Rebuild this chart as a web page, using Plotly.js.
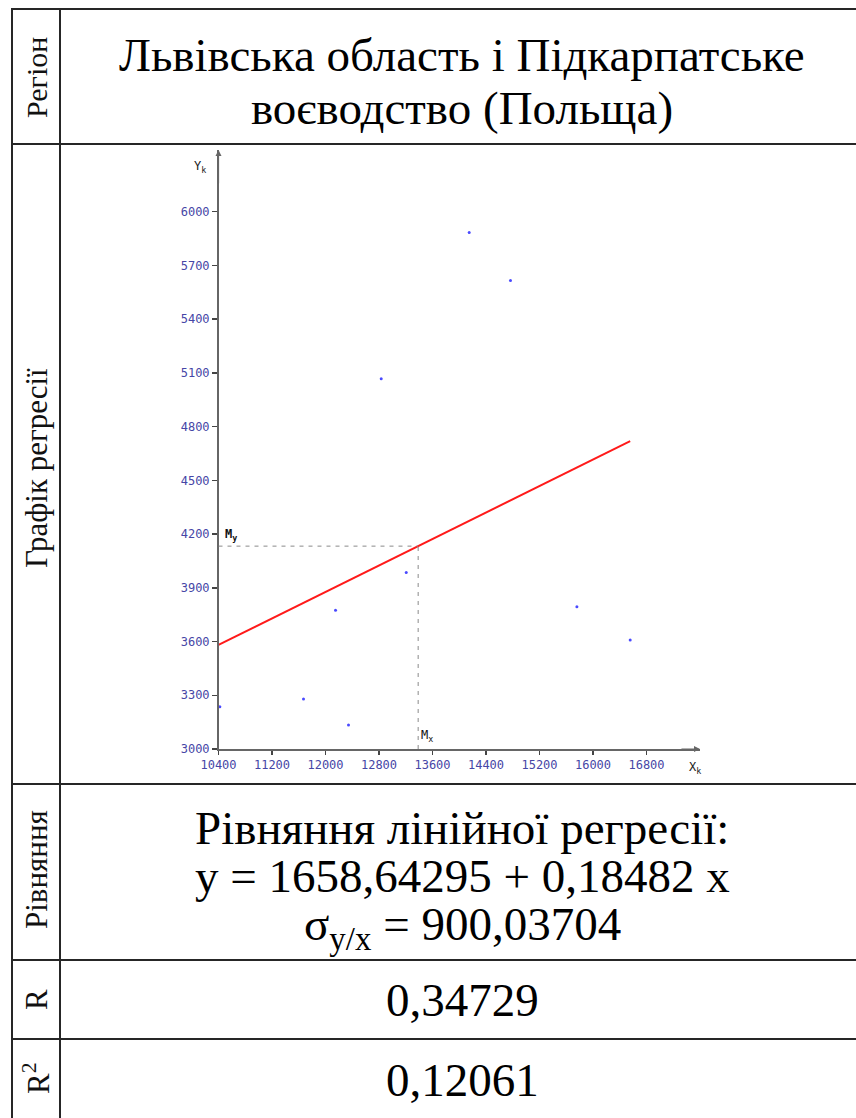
<!DOCTYPE html>
<html>
<head>
<meta charset="utf-8">
<script src="https://cdn.plot.ly/plotly-3.0.1.min.js"></script>
<style>
html,body{margin:0;padding:0;background:#fff;}
#chart{width:856px;height:1118px;}
</style>
</head>
<body>
<div id="chart"></div>
<script>
// ---- data ----
const xValues = [14149, 14766, 12833, 13207, 12150, 11671, 12344, 10420, 15759, 16556];
const yValues = [5883, 5615, 5067, 3985, 3775, 3279, 3134, 3236, 3794, 3608];
const intercept = 1658.64295;
const slope = 0.18482;
const xTicks = [10400, 11200, 12000, 12800, 13600, 14400, 15200, 16000, 16800];
const yTicks = [3000, 3300, 3600, 3900, 4200, 4500, 4800, 5100, 5400, 5700, 6000];
const rowLabels = ["Регіон", "Графік регресії", "Рівняння", "R", "R<sup>2</sup>"];
const regionText = ["Львівська область і Підкарпатське", "воєводство (Польща)"];
const equationText = ["Рівняння лінійної регресії:", "y = 1658,64295 + 0,18482 x", "σ<sub>y/x</sub> = 900,03704"];
const rText = "0,34729";
const r2Text = "0,12061";

// ---- derived ----
const W = 856, H = 1118;
const xMax = Math.max(...xValues);
const meanX = xValues.reduce((a,b)=>a+b,0)/xValues.length;
const meanY = intercept + slope*meanX;
const lineX = [10400, xMax];
const lineY = lineX.map(v => intercept + slope*v);

const px = v => v / W;
const py = v => 1 - v / H;

const serif = "'Liberation Serif', 'Times New Roman', serif";
const mono = "'DejaVu Sans Mono', monospace";

const colL = 12, colD = 60, colR = 856;
const rows = [9, 144, 784, 960, 1039, 1118];

const shapes = [];
const lineStyle = {color:"#262626", width:2};
[rows[0], rows[1], rows[2], rows[3], rows[4]].forEach(y => {
  shapes.push({type:"line", xref:"paper", yref:"paper", x0:px(colL-1), x1:px(colR), y0:py(y), y1:py(y), line:lineStyle});
});
[colL, colD].forEach(x => {
  shapes.push({type:"line", xref:"paper", yref:"paper", x0:px(x), x1:px(x), y0:py(rows[0]-1), y1:py(H), line:lineStyle});
});
shapes.push({type:"line", xref:"x", yref:"y", x0:10400, x1:meanX, y0:meanY, y1:meanY, line:{color:"#8a8a8a", width:1, dash:"4px,5px"}});
shapes.push({type:"line", xref:"x", yref:"y", x0:meanX, x1:meanX, y0:3000, y1:meanY, line:{color:"#8a8a8a", width:1, dash:"4px,5px"}});

const annotations = [];
const ann = (o) => annotations.push(Object.assign({xref:"paper", yref:"paper", showarrow:false, xanchor:"center", yanchor:"middle"}, o));

const rowCenters = [78, 468, 870, 1000, 1078];
const rowSizes = [30, 31, 31, 31, 31];
rowLabels.forEach((t,i) => {
  ann({x:px(36), y:py(rowCenters[i]), text:t, textangle:-90, font:{family:serif, size:rowSizes[i], color:"#111"}});
});
const cx = px(462);
const big = {family:serif, size:47, color:"#000"};
ann({x:cx, y:py(55), text:regionText[0], font:big});
ann({x:cx, y:py(108), text:regionText[1], font:big});
ann({x:cx, y:py(828), text:equationText[0], font:big});
ann({x:cx, y:py(876), text:equationText[1], font:big});
ann({x:cx, y:py(927), text:equationText[2], font:big});
ann({x:cx, y:py(1000), text:rText, font:big});
ann({x:cx, y:py(1080), text:r2Text, font:big});

annotations.push({xref:"x", yref:"y", axref:"x", ayref:"y", x:17600, y:3000, ax:17300, ay:3000, text:"", showarrow:true, arrowhead:2, arrowsize:1, arrowwidth:1.2, arrowcolor:"#666"});
annotations.push({xref:"x", yref:"y", axref:"x", ayref:"y", x:10400, y:6344, ax:10400, ay:6150, text:"", showarrow:true, arrowhead:2, arrowsize:1, arrowwidth:1.2, arrowcolor:"#666"});
ann({x:px(200), y:py(167), text:"Y<sub>k</sub>", font:{family:mono, size:12, color:"#222"}});
ann({x:px(695), y:py(768), text:"X<sub>k</sub>", font:{family:mono, size:12, color:"#222"}});
annotations.push({xref:"x", yref:"y", x:10400, y:meanY, xanchor:"left", yanchor:"bottom", xshift:5, yshift:1, text:"<b>M<sub>y</sub></b>", showarrow:false, font:{family:mono, size:12, color:"#111"}});
annotations.push({xref:"x", yref:"y", x:meanX, y:3000, xanchor:"left", yanchor:"bottom", xshift:1, yshift:3, text:"M<sub>x</sub>", showarrow:false, font:{family:mono, size:12, color:"#111"}});

const traces = [
  {type:"scatter", mode:"markers", x:xValues, y:yValues, marker:{color:"#4a4aff", size:3}},
  {type:"scatter", mode:"lines", x:lineX, y:lineY, line:{color:"#ff1a1a", width:2}}
];

const layout = {
  width:W, height:H,
  margin:{l:0,r:0,t:0,b:0},
  paper_bgcolor:"#fff", plot_bgcolor:"rgba(0,0,0,0)",
  showlegend:false,
  xaxis:{
    domain:[px(218.5), px(700)], range:[10400, 17600],
    tickvals:xTicks, ticktext:xTicks.map(String),
    showgrid:false, zeroline:false, showline:true, linecolor:"#666", linewidth:1.5,
    ticks:"outside", ticklen:4, tickcolor:"#444", tickwidth:1.5,
    tickfont:{family:mono, size:12, color:"#4646a6"}
  },
  yaxis:{
    domain:[py(749), py(150)], range:[3000, 6344],
    tickvals:yTicks, ticktext:yTicks.map(String),
    showgrid:false, zeroline:false, showline:true, linecolor:"#666", linewidth:1.5,
    ticks:"outside", ticklen:5, tickcolor:"#444", tickwidth:1.5,
    tickfont:{family:mono, size:12, color:"#4646a6"}
  },
  shapes:shapes,
  annotations:annotations
};

Plotly.newPlot("chart", traces, layout, {displayModeBar:false, staticPlot:true});
</script>
</body>
</html>
